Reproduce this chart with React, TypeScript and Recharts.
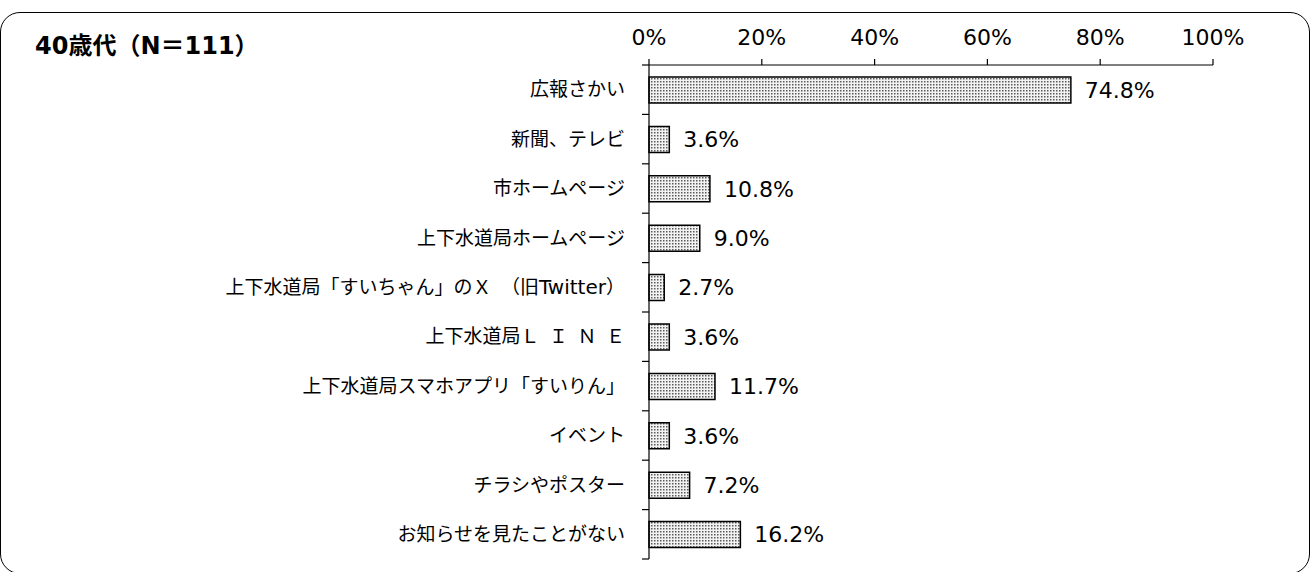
import React from "react";
import { BarChart, Bar, XAxis, YAxis, LabelList } from "recharts";

const categories = [
  "広報さかい",
  "新聞、テレビ",
  "市ホームページ",
  "上下水道局ホームページ",
  "上下水道局「すいちゃん」のＸ　（旧Twitter）",
  "上下水道局Ｌ\u2002Ｉ\u2002Ｎ\u2002Ｅ",
  "上下水道局スマホアプリ「すいりん」",
  "イベント",
  "チラシやポスター",
  "お知らせを見たことがない",
];
const values = [74.8, 3.6, 10.8, 9.0, 2.7, 3.6, 11.7, 3.6, 7.2, 16.2];
const xTicks = [0, 20, 40, 60, 80, 100];
const title = "40歳代（N＝111）";

const data = categories.map((name, i) => ({ name, value: values[i] }));

const NUM_FONT = "'DejaVu Sans', Verdana, sans-serif";
const JP_FONT = "'Noto Sans CJK JP', sans-serif";

const splitRuns = (s: string) => {
  const runs: { text: string; latin: boolean }[] = [];
  const re = /[A-Za-z0-9]+/g;
  let last = 0;
  let m: RegExpExecArray | null;
  while ((m = re.exec(s)) !== null) {
    if (m.index > last) runs.push({ text: s.slice(last, m.index), latin: false });
    runs.push({ text: m[0], latin: true });
    last = m.index + m[0].length;
  }
  if (last < s.length) runs.push({ text: s.slice(last), latin: false });
  return runs;
};

const CategoryTick = (props: any) => {
  const { x, y, payload, index } = props;
  const half = payload && payload.offset ? payload.offset : 24.7;
  const axisX = x + 24;
  const runs = splitRuns(String(payload.value));
  return (
    <g>
      <text
        x={x}
        y={y}
        dy="0.35em"
        textAnchor="end"
        fontFamily={JP_FONT}
        fontSize={19}
        fill="#000"
        style={{ whiteSpace: "pre" }}
      >
        {runs.map((r, i) =>
          r.latin ? (
            <tspan key={i} fontFamily={NUM_FONT} fontSize={20}>
              {r.text}
            </tspan>
          ) : (
            <tspan key={i}>{r.text}</tspan>
          )
        )}
      </text>
      <line x1={axisX - 7} x2={axisX} y1={y - half} y2={y - half} stroke="#000" strokeWidth={1.2} />
      {index === categories.length - 1 && (
        <line x1={axisX - 7} x2={axisX} y1={y + half} y2={y + half} stroke="#000" strokeWidth={1.2} />
      )}
    </g>
  );
};

export default function App() {
  return (
    <div style={{ position: "absolute", left: 0, top: 0, width: 1314, height: 572, background: "#fff" }}>
      <svg width={0} height={0} style={{ position: "absolute" }}>
        <defs>
          <pattern id="dots" patternUnits="userSpaceOnUse" width={3} height={3}>
            <rect x={0} y={0} width={3} height={3} fill="#f2f2f2" />
            <rect x={0} y={0} width={1.5} height={1.5} fill="#5a5a5a" />
          </pattern>
        </defs>
      </svg>
      <div
        style={{
          position: "absolute",
          left: 0,
          top: 12,
          width: 1310,
          height: 562,
          border: "1.5px solid #000",
          borderRadius: 20,
          boxSizing: "border-box",
        }}
      />
      <div
        style={{
          position: "absolute",
          left: 35,
          top: 31,
          fontFamily: NUM_FONT + ", " + JP_FONT,
          fontWeight: "bold",
          fontSize: 24,
          lineHeight: "31px",
          color: "#000",
        }}
      >
        {title}
      </div>
      <div style={{ position: "absolute", left: 0, top: 0 }}>
        <BarChart
          width={1314}
          height={572}
          data={data}
          layout="vertical"
          margin={{ top: 35, right: 101, bottom: 13, left: 0 }}
        >
          <XAxis
            type="number"
            orientation="top"
            domain={[0, 100]}
            ticks={xTicks}
            tickFormatter={(v: number) => `${v}%`}
            height={30}
            tickSize={6}
            tickMargin={14}
            axisLine={{ stroke: "#000", strokeWidth: 1.2 }}
            tickLine={{ stroke: "#000", strokeWidth: 1.2 }}
            tick={{ fill: "#000", fontSize: 22, fontFamily: NUM_FONT }}
            interval={0}
          />
          <YAxis
            type="category"
            dataKey="name"
            width={649}
            tickLine={false}
            tickSize={0}
            tickMargin={24}
            axisLine={{ stroke: "#000", strokeWidth: 1.2 }}
            tick={<CategoryTick />}
            interval={0}
          />
          <Bar
            dataKey="value"
            fill="url(#dots)"
            stroke="#000"
            strokeWidth={1.5}
            barSize={26}
            isAnimationActive={false}
          >
            <LabelList
              dataKey="value"
              position="right"
              offset={14}
              formatter={(v: number) => `${v.toFixed(1)}%`}
              style={{ fill: "#000", fontSize: 22, fontFamily: NUM_FONT }}
            />
          </Bar>
        </BarChart>
      </div>
    </div>
  );
}
